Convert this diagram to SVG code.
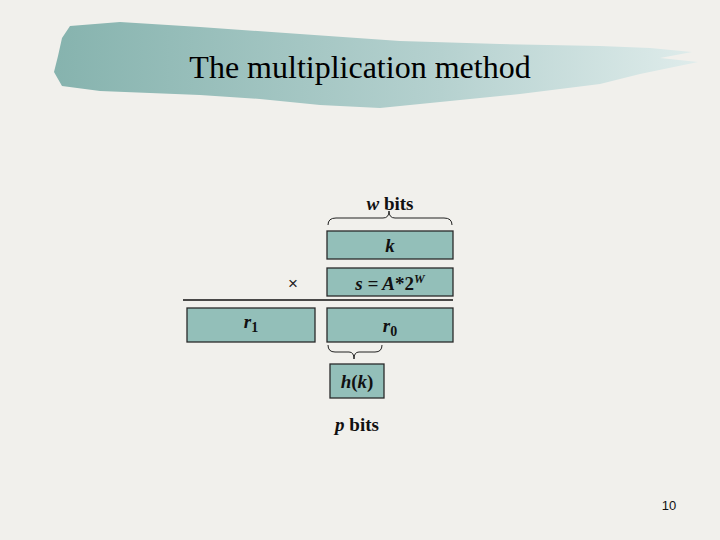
<svg xmlns="http://www.w3.org/2000/svg" width="720" height="540" viewBox="0 0 720 540">
<defs>
<linearGradient id="ban" x1="0" y1="0" x2="1" y2="0">
<stop offset="0" stop-color="#86b3ae"/>
<stop offset="0.6" stop-color="#b5d1cf"/>
<stop offset="1" stop-color="#dfeceb"/>
</linearGradient>
<style>
.box{fill:#93bfb9;stroke:#2a2a2a;stroke-width:1.3}
.lbl{font-family:"Liberation Serif",serif;font-weight:bold;font-size:19px;text-anchor:middle;fill:#111}
.it{font-style:italic}
.br{fill:none;stroke:#222;stroke-width:1}
</style>
</defs>
<rect width="720" height="540" fill="#f1f0ec"/>
<g id="title">
<path d="M62,38 L70,26 L120,22 L200,27 L300,34 L400,41 L500,44 L600,46 L650,48 L692,52 L660,58 L698,62 L640,74 L600,84 L520,94 L440,102 L380,108 L320,105 L260,99 L200,95 L150,93 L100,91 L62,86 L54,72 L58,56 Z" fill="url(#ban)"/>
<text x="360" y="78" font-family="Liberation Serif,serif" font-size="32" text-anchor="middle" fill="#000">The multiplication method</text>
</g>
<g id="wbits">
<text x="390" y="210" class="lbl"><tspan class="it">w</tspan> bits</text>
<path class="br" d="M328,225 Q328,218 336,218 L383,218 Q389,218 389,211 Q389,218 395,218 L444,218 Q452,218 452,225"/>
</g>
<g id="k"><rect class="box" x="327" y="231" width="126" height="28"/><text x="390" y="252" class="lbl it">k</text></g>
<g id="times"><text x="293" y="289" font-family="Liberation Sans,sans-serif" font-size="17" text-anchor="middle" fill="#222">×</text></g>
<g id="s"><rect class="box" x="327" y="268" width="126" height="28"/><text x="390" y="290" class="lbl it">s = A<tspan font-style="normal">*2</tspan><tspan font-size="12" dy="-7">W</tspan></text></g>
<g id="rule"><line x1="183" y1="300" x2="453" y2="300" stroke="#111" stroke-width="1.3"/></g>
<g id="r1"><rect class="box" x="187" y="308" width="128" height="34"/><text x="251" y="328" class="lbl it">r<tspan font-style="normal" font-size="14" dy="4">1</tspan></text></g>
<g id="r0"><rect class="box" x="327" y="308" width="126" height="34"/><text x="390" y="332" class="lbl it">r<tspan font-style="normal" font-size="14" dy="4">0</tspan></text></g>
<g id="pbrace"><path class="br" d="M328,345 Q328,352 335,352 L349,352 Q354,352 354,359 Q354,352 359,352 L375,352 Q382,352 382,345"/></g>
<g id="hk"><rect class="box" x="330" y="364" width="54" height="34"/><text x="357" y="388" class="lbl"><tspan class="it">h</tspan>(<tspan class="it">k</tspan>)</text></g>
<g id="pbits"><text x="357" y="431" class="lbl"><tspan class="it">p</tspan> bits</text></g>
<g id="page"><text x="669" y="510" font-family="Liberation Sans,sans-serif" font-size="13" text-anchor="middle" fill="#111">10</text></g>
</svg>
